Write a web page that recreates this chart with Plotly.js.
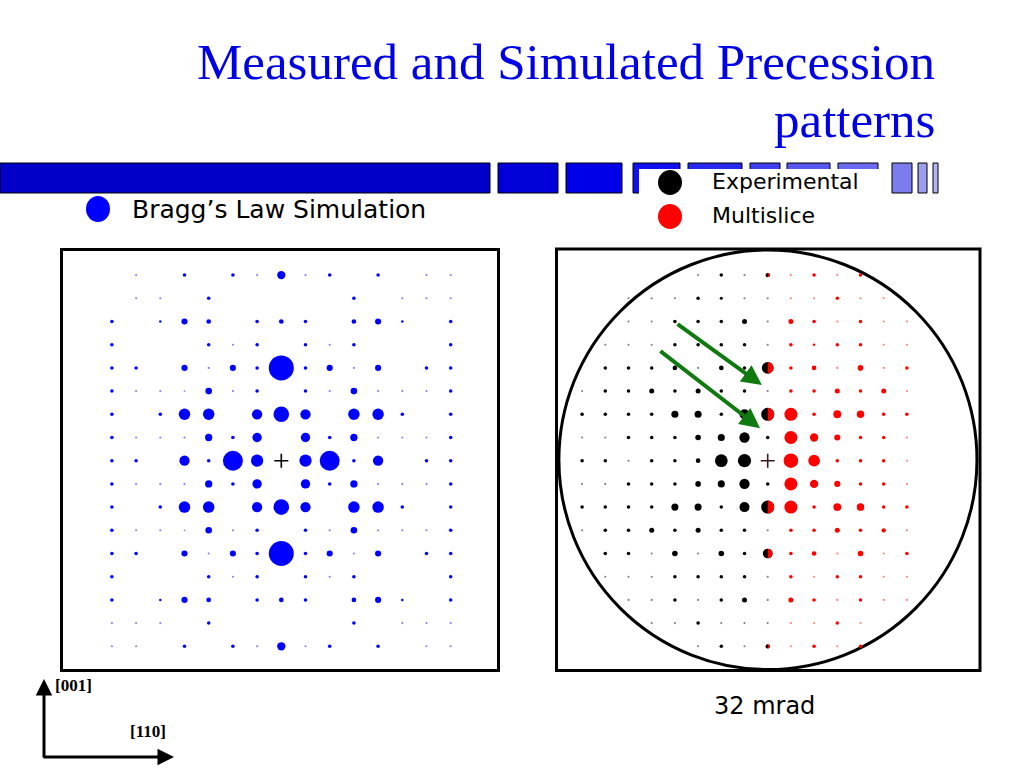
<!DOCTYPE html>
<html>
<head>
<meta charset="utf-8">
<script src="https://cdn.plot.ly/plotly-3.0.1.min.js"></script>
<style>html,body{margin:0;padding:0;background:#fff;}#chart{width:1024px;height:768px;}</style>
</head>
<body>
<div id="chart"></div>
<script>
// ---------------- DATA ----------------
// Left: Bragg's law simulation (reflection grid, [110] horizontal, [001] vertical)
const braggCols = [-7,-6,-5,-4,-3,-2,-1,0,1,2,3,4,5,6,7];
const braggRows = [8,7,6,5,4,3,2,1,0,-1,-2,-3,-4,-5,-6,-7,-8];
const braggIntensity = [
  [0,0.7,0,2,0,2,0.7,11,0.7,2,0,2,0,0.7,0.7],
  [0,0.7,0.7,0,2,0,0,0,0,0,2,0,0.7,0.7,0.7],
  [2,0,1,6,3.5,0,2,3.5,2,0,3.5,6,1,0,2],
  [2,0,0,0,2,0.7,2,0,2,0.7,2,0,0,0,2],
  [2,2,0,6,0.7,6,2,100,2,6,0.7,6,0,2,2],
  [2,0.7,0.7,0.5,7,0.7,2,0,2,0.7,7,0.7,0.7,0.7,2],
  [2,0,2,21,21,0,17,39,17,0,21,21,2,0,2],
  [2,0.7,0.7,0.7,8.5,2,14,0,14,2,8.5,0.7,0.7,0.7,2],
  [2,2,0,17,2,64,24,0,24,64,2,17,0,2,2],
  [2,0.7,0.7,0.7,8.5,2,14,0,14,2,8.5,0.7,0.7,0.7,2],
  [2,0,2,21,21,0,17,39,17,0,21,21,2,0,2],
  [2,0.7,0.7,0.5,7,0.7,2,0,2,0.7,7,0.7,0.7,0.7,2],
  [2,2,0,6,0.7,6,2,100,2,6,0.7,6,0,2,2],
  [2,0,0,0,2,0.7,2,0,2,0.7,2,0,0,0,2],
  [2,0,1,6,3.5,0,2,3.5,2,0,3.5,6,1,0,2],
  [0.7,0.7,0.7,0,2,0,0,0,0,0,2,0,0.7,0.7,0.7],
  [0.7,0.7,0,2,0,2,0.7,11,0.7,2,0,2,0,0.7,0.7]
];

// Right: measured (experimental, left half) and multislice (right half)
const patternRows = [8,7,6,5,4,3,2,1,0,-1,-2,-3,-4,-5,-6,-7,-8];
const expCols = [-8,-7,-6,-5,-4,-3,-2,-1,0];
const expIntensity = [
  [0,0,0,0,0,0.7,2,0.7,3],
  [0,0,0.7,0.7,0.7,2,1.5,0.7,0.7],
  [0,0,0.7,0.7,2,2,2,4,0.7],
  [0,0.7,0.7,0.7,2,2,2,2,0.7],
  [0,2,2,2,3.5,0.7,3.5,2,22],
  [0.7,2,2,4,2,4,2,2,0.7],
  [2,2,2,2,8,8,2,16,27],
  [0.7,0.7,2,2,2,5,8,17,2],
  [2,2,0.7,2,2,3.5,26,28,0],
  [0.7,0.7,2,2,2,5,8,17,2],
  [2,2,2,2,8,8,2,16,27],
  [0.7,2,2,4,2,4,2,2,0.7],
  [0,2,2,0.7,5,0.7,5,2,15],
  [0,0.7,0.7,0.7,2,2,2,2,0.7],
  [0,0,0.7,0.7,2,0.7,2,4,0.7],
  [0,0,0,0.7,0.7,2,0.7,0.7,0.7],
  [0,0,0,0,0,0.7,2,0.7,3]
];
const msCols = [0,1,2,3,4,5,6];
const msIntensity = [
  [3,0.7,2,0.7,2,0,0],
  [0,0.7,0.7,2,0.7,0.7,0],
  [0,4,2,0.7,2,0.7,0.7],
  [0,2,1,2,2,0.7,0.7],
  [22,2,3.5,0.7,5,0.7,2],
  [0,2,2,4,2,4,0.7],
  [27,27,2,10,9,2,2],
  [0,27,11,6,2,2,0.7],
  [0,34,22,2,2,2,0.7],
  [0,27,11,6,2,2,0.7],
  [27,27,2,10,9,2,2],
  [0,2,2,4,2,3,0.7],
  [15,2,3.5,0.7,5,0.7,2],
  [0,2,0.7,2,2,0.7,0.7],
  [0,4,2,0.7,2,0.7,0.7],
  [0,0.7,0.7,2,0.7,0,0],
  [3,0.7,2,0.7,2,0,0]
];
const beamCentre = {x:[0], y:[0]};

// ---------------- HELPERS ----------------
function px(x){return x/1024;}
function py(y){return 1 - y/768;}
function sizeOf(I){return 2.5*Math.sqrt(I);}

function gridTrace(cols, rows, vals, rgb, xa, ya){
  const x=[], y=[], s=[], c=[];
  rows.forEach((r,i)=>cols.forEach((col,j)=>{
    const v = vals[i][j];
    if(v>0){
      x.push(col); y.push(r); s.push(sizeOf(v));
      c.push(v<1 ? 'rgba('+rgb+',0.5)' : 'rgb('+rgb+')');
    }
  }));
  return {type:'scatter', mode:'markers', x:x, y:y, xaxis:xa, yaxis:ya,
    marker:{size:s, color:c, opacity:1, line:{width:0}}, cliponaxis:true, hoverinfo:'skip'};
}

const traces = [
  gridTrace(braggCols, braggRows, braggIntensity, '0,0,255', 'x', 'y'),
  {type:'scatter', mode:'markers', x:beamCentre.x, y:beamCentre.y, xaxis:'x', yaxis:'y',
   marker:{symbol:'cross-thin-open', size:10, color:'#000', opacity:1, line:{width:1.6, color:'#000'}}, hoverinfo:'skip'},
  gridTrace(expCols, patternRows, expIntensity, '0,0,0', 'x2', 'y2'),
  {type:'scatter', mode:'markers', x:beamCentre.x, y:beamCentre.y, xaxis:'x2', yaxis:'y2',
   marker:{symbol:'cross-thin-open', size:10, color:'#3a1a1a', opacity:1, line:{width:1.6, color:'#3a1a1a'}}, hoverinfo:'skip'},
  gridTrace(msCols, patternRows, msIntensity, '255,0,0', 'x3', 'y3')
];

// ---------------- LAYOUT ----------------
const Lcx=281.3, Lcy=460.7, Lsx=24.2, Lsy=23.2;
const Rcx=767.7, Rcy=460.7, Rs=23.2;
const L0=61, L1=500, T0=248, B0=672, R0=556, R1=980, RB=673;

const axBase = {visible:false, fixedrange:true, autorange:false, showgrid:false, zeroline:false};
const yR = [(Rcy-RB)/Rs, (Rcy-T0)/Rs];

const shapes = [];
// decorative bar strip under the title
const bars = [
  [0,490,'#0000c8'],[498,558,'#0000d8'],[566,622,'#0000e8'],[633,680,'#1010f0'],
  [688,742,'#2828f0'],[750,780,'#4040f0'],[787,830,'#5858f0'],[838,878,'#6a6af0'],
  [892,912,'#7c7cee'],[918,927,'#9c9cf0'],[933,938,'#b4b4f4']
];
bars.forEach(b=>shapes.push({type:'rect', xref:'paper', yref:'paper', x0:px(b[0]), x1:px(b[1]),
  y0:py(193), y1:py(163), fillcolor:b[2], line:{color:'#000', width:1}, layer:'above'}));
// white legend box covering strip
shapes.push({type:'rect', xref:'paper', yref:'paper', x0:px(639), x1:px(886), y0:py(238), y1:py(169),
  fillcolor:'#fff', line:{width:0}, layer:'above'});
// legend symbols
shapes.push({type:'circle', xref:'paper', yref:'paper', x0:px(86), x1:px(110), y0:py(222), y1:py(196),
  fillcolor:'#0000ff', line:{width:0}, layer:'above'});
shapes.push({type:'circle', xref:'paper', yref:'paper', x0:px(658), x1:px(682), y0:py(195), y1:py(170),
  fillcolor:'#000', line:{width:0}, layer:'above'});
shapes.push({type:'circle', xref:'paper', yref:'paper', x0:px(658), x1:px(682), y0:py(229), y1:py(204),
  fillcolor:'#ff0000', line:{width:0}, layer:'above'});
// panel frames
shapes.push({type:'rect', xref:'paper', yref:'paper', x0:px(61.5), x1:px(498.5), y0:py(670.5), y1:py(249.5),
  line:{color:'#000', width:3}, layer:'above'});
shapes.push({type:'rect', xref:'paper', yref:'paper', x0:px(556.5), x1:px(980), y0:py(670.5), y1:py(249),
  line:{color:'#000', width:3}, layer:'above'});
// 32 mrad precession circle
shapes.push({type:'circle', xref:'x2', yref:'y2', x0:-9.0, x1:9.02, y0:-9.0, y1:9.08,
  line:{color:'#000', width:3}, layer:'below'});

const annotations = [
  {text:'Measured and Simulated Precession', xref:'paper', yref:'paper', x:px(937), y:py(62),
   xanchor:'right', yanchor:'middle', showarrow:false,
   font:{family:'Liberation Serif, Times New Roman, serif', size:51, color:'#0000e6'}},
  {text:'patterns', xref:'paper', yref:'paper', x:px(937), y:py(120),
   xanchor:'right', yanchor:'middle', showarrow:false,
   font:{family:'Liberation Serif, Times New Roman, serif', size:51, color:'#0000e6'}},
  {text:'Bragg’s Law Simulation', xref:'paper', yref:'paper', x:px(130), y:py(209),
   xanchor:'left', yanchor:'middle', showarrow:false,
   font:{family:'DejaVu Sans, Verdana, sans-serif', size:25, color:'#000'}},
  {text:'Experimental', xref:'paper', yref:'paper', x:px(710), y:py(182),
   xanchor:'left', yanchor:'middle', showarrow:false,
   font:{family:'DejaVu Sans, Verdana, sans-serif', size:22, color:'#000'}},
  {text:'Multislice', xref:'paper', yref:'paper', x:px(710), y:py(215),
   xanchor:'left', yanchor:'middle', showarrow:false,
   font:{family:'DejaVu Sans, Verdana, sans-serif', size:22, color:'#000'}},
  {text:'32 mrad', xref:'paper', yref:'paper', x:px(764), y:py(706),
   xanchor:'center', yanchor:'middle', showarrow:false,
   font:{family:'DejaVu Sans, Verdana, sans-serif', size:24, color:'#000'}},
  {text:'<b>[001]</b>', xref:'paper', yref:'paper', x:px(53), y:py(685),
   xanchor:'left', yanchor:'middle', showarrow:false,
   font:{family:'Liberation Serif, Times New Roman, serif', size:17, color:'#000'}},
  {text:'<b>[110]</b>', xref:'paper', yref:'paper', x:px(128), y:py(731),
   xanchor:'left', yanchor:'middle', showarrow:false,
   font:{family:'Liberation Serif, Times New Roman, serif', size:17, color:'#000'}},
  // crystal direction arrows
  {text:'', xref:'paper', yref:'paper', x:px(44), y:py(679), axref:'pixel', ayref:'pixel', ax:0, ay:80,
   showarrow:true, arrowhead:2, arrowsize:1.1, arrowwidth:3, arrowcolor:'#000', standoff:0},
  {text:'', xref:'paper', yref:'paper', x:px(174), y:py(757), axref:'pixel', ayref:'pixel', ax:-132, ay:0,
   showarrow:true, arrowhead:2, arrowsize:1.1, arrowwidth:3, arrowcolor:'#000', standoff:0},
  // green pointer arrows in the measured pattern
  {text:'', xref:'x2', yref:'y2', x:-0.25, y:3.26, axref:'x2', ayref:'y2', ax:-3.95, ay:5.93,
   showarrow:true, arrowhead:2, arrowsize:1, arrowwidth:4, arrowcolor:'#107a10', standoff:0},
  {text:'', xref:'x2', yref:'y2', x:-0.33, y:1.4, axref:'x2', ayref:'y2', ax:-4.69, ay:4.77,
   showarrow:true, arrowhead:2, arrowsize:1, arrowwidth:4, arrowcolor:'#107a10', standoff:0}
];

const layout = {
  width:1024, height:768, margin:{l:0,r:0,t:0,b:0,pad:0},
  paper_bgcolor:'#fff', plot_bgcolor:'rgba(0,0,0,0)', showlegend:false,
  xaxis:Object.assign({}, axBase, {domain:[px(L0),px(L1)], range:[(L0-Lcx)/Lsx,(L1-Lcx)/Lsx], anchor:'y'}),
  yaxis:Object.assign({}, axBase, {domain:[py(B0),py(T0)], range:[(Lcy-B0)/Lsy,(Lcy-T0)/Lsy], anchor:'x'}),
  xaxis2:Object.assign({}, axBase, {domain:[px(R0),px(R1)], range:[(R0-Rcx)/Rs,(R1-Rcx)/Rs], anchor:'y2'}),
  yaxis2:Object.assign({}, axBase, {domain:[py(RB),py(T0)], range:yR, anchor:'x2'}),
  xaxis3:Object.assign({}, axBase, {domain:[px(Rcx),px(R1)], range:[0,(R1-Rcx)/Rs], anchor:'y3'}),
  yaxis3:Object.assign({}, axBase, {domain:[py(RB),py(T0)], range:yR, anchor:'x3'}),
  shapes:shapes, annotations:annotations
};

Plotly.newPlot('chart', traces, layout, {staticPlot:true, displayModeBar:false});
</script>
</body>
</html>
